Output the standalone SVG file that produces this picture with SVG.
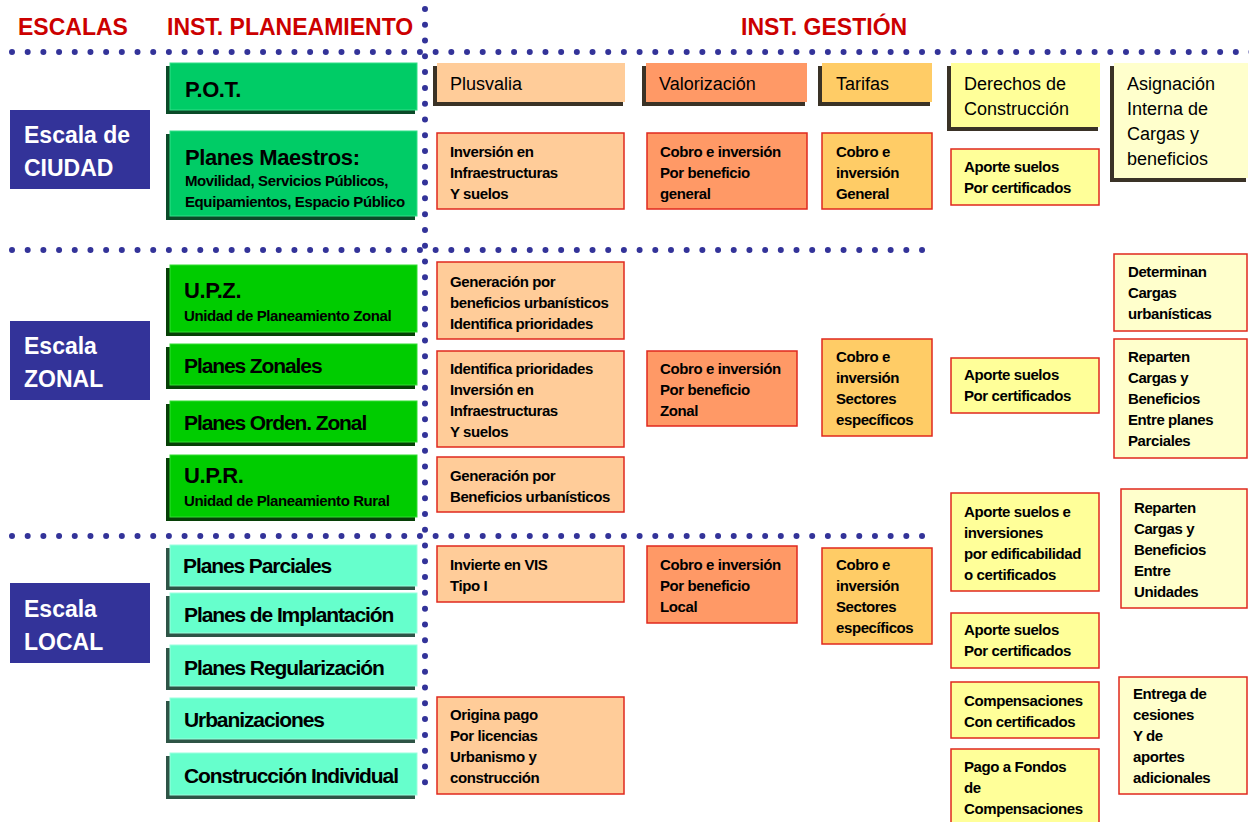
<svg xmlns="http://www.w3.org/2000/svg" width="1249" height="822" viewBox="0 0 1249 822">
<style>
text{font-family:"Liberation Sans",Arial,sans-serif;fill:#000}
.hdr{font-size:23px;font-weight:bold;fill:#CC0000}
.dots{stroke:#333399;stroke-width:6;stroke-linecap:round;fill:none}
.scale rect{fill:#333399}
.scale text{fill:#fff;font-size:23px;font-weight:bold}
.pt{font-size:21px;font-weight:bold;letter-spacing:-1.1px}
.pb{font-size:22px;font-weight:bold;letter-spacing:-0.4px}
.ps{font-size:15px;font-weight:bold;letter-spacing:-0.4px}
.ht{font-size:18px}
.dt{font-size:15px;font-weight:bold;letter-spacing:-0.4px}
.det{stroke:#E0281E;stroke-width:1.5}
.c1 .f{fill:#00CC66;stroke:#33E088;stroke-width:1}
.c1 .e{fill:#0B4A28}
.c2 .f{fill:#00CC00;stroke:#33DD33;stroke-width:1}
.c2 .e{fill:#064006}
.c3 .f{fill:#66FFCC;stroke:#99FFDD;stroke-width:1}
.c3 .e{fill:#2E5446}
.hb .e{fill:#3A3226}
.plus{fill:#FFCC99}
.valo{fill:#FF9966}
.tari{fill:#FFCC66}
.dere{fill:#FFFF99}
.asig{fill:#FFFFCC}
</style>

<g id="headers">
<text class="hdr" x="18" y="35">ESCALAS</text>
<text class="hdr" x="167" y="35">INST. PLANEAMIENTO</text>
<text class="hdr" x="741" y="35">INST. GESTIÓN</text>
</g>

<g id="connectors">
<line class="dots" x1="12" y1="52" x2="1260" y2="52" stroke-dasharray="0 15.69"/>
<line class="dots" x1="12" y1="250" x2="926" y2="250" stroke-dasharray="0 15.69"/>
<line class="dots" x1="12" y1="536" x2="926" y2="536" stroke-dasharray="0 15.69"/>
<line class="dots" x1="425" y1="9" x2="425" y2="785" stroke-dasharray="0 15.78"/>
</g>

<g id="escala-ciudad" class="scale"><rect x="10" y="110" width="140" height="79"/><text x="24" y="143">Escala de</text><text x="24" y="176">CIUDAD</text></g>
<g id="escala-zonal" class="scale"><rect x="10" y="321" width="140" height="79"/><text x="24" y="354">Escala</text><text x="24" y="387">ZONAL</text></g>
<g id="escala-local" class="scale"><rect x="10" y="583" width="140" height="80"/><text x="24" y="617">Escala</text><text x="24" y="650">LOCAL</text></g>

<g id="pot" class="c1"><rect class="e" x="166" y="66" width="249" height="48"/><rect class="f" x="170" y="63" width="247" height="47"/><text class="pb" x="185" y="97">P.O.T.</text></g>
<g id="planes-maestros" class="c1"><rect class="e" x="166" y="134" width="249" height="86"/><rect class="f" x="170" y="131" width="247" height="85"/><text class="pb" x="185" y="165">Planes Maestros:</text><text class="ps" x="185" y="186">Movilidad, Servicios Públicos,</text><text class="ps" x="185" y="207">Equipamientos, Espacio Público</text></g>

<g id="upz" class="c2"><rect class="e" x="166" y="268" width="249" height="68"/><rect class="f" x="170" y="265" width="247" height="67"/><text class="pb" x="184" y="298">U.P.Z.</text><text class="ps" x="184" y="321">Unidad de Planeamiento Zonal</text></g>
<g id="planes-zonales" class="c2"><rect class="e" x="166" y="347" width="249" height="42"/><rect class="f" x="170" y="344" width="247" height="41"/><text class="pt" x="184" y="373">Planes Zonales</text></g>
<g id="planes-orden-zonal" class="c2"><rect class="e" x="166" y="404" width="249" height="42"/><rect class="f" x="170" y="401" width="247" height="41"/><text class="pt" x="184" y="430">Planes Orden. Zonal</text></g>
<g id="upr" class="c2"><rect class="e" x="166" y="458" width="249" height="63"/><rect class="f" x="170" y="455" width="247" height="62"/><text class="pb" x="184" y="483">U.P.R.</text><text class="ps" x="184" y="506">Unidad de Planeamiento Rural</text></g>

<g id="planes-parciales" class="c3"><rect class="e" x="166" y="548" width="249" height="42"/><rect class="f" x="170" y="545" width="247" height="41"/><text class="pt" x="183" y="573">Planes Parciales</text></g>
<g id="planes-implantacion" class="c3"><rect class="e" x="166" y="596" width="249" height="41"/><rect class="f" x="170" y="593" width="247" height="40"/><text class="pt" x="184" y="622">Planes de Implantación</text></g>
<g id="planes-regularizacion" class="c3"><rect class="e" x="166" y="648" width="249" height="42"/><rect class="f" x="170" y="645" width="247" height="41"/><text class="pt" x="184" y="675">Planes Regularización</text></g>
<g id="urbanizaciones" class="c3"><rect class="e" x="166" y="701" width="249" height="42"/><rect class="f" x="170" y="698" width="247" height="41"/><text class="pt" x="184" y="727">Urbanizaciones</text></g>
<g id="construccion-individual" class="c3"><rect class="e" x="166" y="756" width="249" height="43"/><rect class="f" x="170" y="753" width="247" height="42"/><text class="pt" x="184" y="783">Construcción Individual</text></g>

<g id="h-plusvalia" class="hb"><rect class="e" x="433" y="66" width="190" height="40"/><rect class="plus" x="437" y="63" width="188" height="39"/><text class="ht" x="450" y="90">Plusvalia</text></g>
<g id="h-valorizacion" class="hb"><rect class="e" x="642" y="66" width="163" height="40"/><rect class="valo" x="646" y="63" width="161" height="39"/><text class="ht" x="659" y="90">Valorización</text></g>
<g id="h-tarifas" class="hb"><rect class="e" x="818" y="66" width="112" height="40"/><rect class="tari" x="822" y="63" width="110" height="39"/><text class="ht" x="836" y="90">Tarifas</text></g>
<g id="h-derechos" class="hb"><rect class="e" x="947" y="66" width="151" height="65"/><rect class="dere" x="951" y="63" width="149" height="64"/><text class="ht" x="964" y="90">Derechos de</text><text class="ht" x="964" y="115">Construcción</text></g>
<g id="h-asignacion" class="hb"><rect class="e" x="1110" y="66" width="136" height="116"/><rect class="asig" x="1114" y="63" width="134" height="115"/><text class="ht" x="1127" y="90">Asignación</text><text class="ht" x="1127" y="115">Interna de</text><text class="ht" x="1127" y="140">Cargas y</text><text class="ht" x="1127" y="165">beneficios</text></g>

<g id="plus-ciudad"><rect class="det plus" x="437" y="133" width="187" height="76"/><text class="dt" x="450" y="157">Inversión en</text><text class="dt" x="450" y="178">Infraestructuras</text><text class="dt" x="450" y="199">Y suelos</text></g>
<g id="plus-zonal-1"><rect class="det plus" x="437" y="262" width="187" height="77"/><text class="dt" x="450" y="287">Generación por</text><text class="dt" x="450" y="308">beneficios urbanísticos</text><text class="dt" x="450" y="329">Identifica prioridades</text></g>
<g id="plus-zonal-2"><rect class="det plus" x="437" y="351" width="187" height="96"/><text class="dt" x="450" y="374">Identifica prioridades</text><text class="dt" x="450" y="395">Inversión en</text><text class="dt" x="450" y="416">Infraestructuras</text><text class="dt" x="450" y="437">Y suelos</text></g>
<g id="plus-zonal-3"><rect class="det plus" x="437" y="457" width="187" height="55"/><text class="dt" x="450" y="481">Generación por</text><text class="dt" x="450" y="502">Beneficios urbanísticos</text></g>
<g id="plus-local-1"><rect class="det plus" x="437" y="546" width="187" height="56"/><text class="dt" x="450" y="570">Invierte en VIS</text><text class="dt" x="450" y="591">Tipo I</text></g>
<g id="plus-local-2"><rect class="det plus" x="437" y="697" width="187" height="97"/><text class="dt" x="450" y="720">Origina pago</text><text class="dt" x="450" y="741">Por licencias</text><text class="dt" x="450" y="762">Urbanismo y</text><text class="dt" x="450" y="783">construcción</text></g>

<g id="valo-ciudad"><rect class="det valo" x="647" y="133" width="160" height="76"/><text class="dt" x="660" y="157">Cobro e inversión</text><text class="dt" x="660" y="178">Por beneficio</text><text class="dt" x="660" y="199">general</text></g>
<g id="valo-zonal"><rect class="det valo" x="647" y="351" width="150" height="75"/><text class="dt" x="660" y="374">Cobro e inversión</text><text class="dt" x="660" y="395">Por beneficio</text><text class="dt" x="660" y="416">Zonal</text></g>
<g id="valo-local"><rect class="det valo" x="647" y="546" width="150" height="77"/><text class="dt" x="660" y="570">Cobro e inversión</text><text class="dt" x="660" y="591">Por beneficio</text><text class="dt" x="660" y="612">Local</text></g>

<g id="tari-ciudad"><rect class="det tari" x="822" y="133" width="110" height="76"/><text class="dt" x="836" y="157">Cobro e</text><text class="dt" x="836" y="178">inversión</text><text class="dt" x="836" y="199">General</text></g>
<g id="tari-zonal"><rect class="det tari" x="822" y="339" width="110" height="97"/><text class="dt" x="836" y="362">Cobro e</text><text class="dt" x="836" y="383">inversión</text><text class="dt" x="836" y="404">Sectores</text><text class="dt" x="836" y="425">específicos</text></g>
<g id="tari-local"><rect class="det tari" x="822" y="548" width="110" height="96"/><text class="dt" x="836" y="570">Cobro e</text><text class="dt" x="836" y="591">inversión</text><text class="dt" x="836" y="612">Sectores</text><text class="dt" x="836" y="633">específicos</text></g>

<g id="dere-ciudad"><rect class="det dere" x="951" y="149" width="148" height="56"/><text class="dt" x="964" y="172">Aporte suelos</text><text class="dt" x="964" y="193">Por certificados</text></g>
<g id="dere-zonal"><rect class="det dere" x="951" y="358" width="148" height="55"/><text class="dt" x="964" y="380">Aporte suelos</text><text class="dt" x="964" y="401">Por certificados</text></g>
<g id="dere-local-1"><rect class="det dere" x="951" y="493" width="148" height="98"/><text class="dt" x="964" y="517">Aporte suelos e</text><text class="dt" x="964" y="538">inversiones</text><text class="dt" x="964" y="559">por edificabilidad</text><text class="dt" x="964" y="580">o certificados</text></g>
<g id="dere-local-2"><rect class="det dere" x="951" y="613" width="148" height="55"/><text class="dt" x="964" y="635">Aporte suelos</text><text class="dt" x="964" y="656">Por certificados</text></g>
<g id="dere-local-3"><rect class="det dere" x="951" y="682" width="148" height="56"/><text class="dt" x="964" y="706">Compensaciones</text><text class="dt" x="964" y="727">Con certificados</text></g>
<g id="dere-local-4"><rect class="det dere" x="951" y="749" width="148" height="90"/><text class="dt" x="964" y="772">Pago a Fondos</text><text class="dt" x="964" y="793">de</text><text class="dt" x="964" y="814">Compensaciones</text></g>

<g id="asig-zonal-1"><rect class="det asig" x="1114" y="254" width="133" height="77"/><text class="dt" x="1128" y="277">Determinan</text><text class="dt" x="1128" y="298">Cargas</text><text class="dt" x="1128" y="319">urbanísticas</text></g>
<g id="asig-zonal-2"><rect class="det asig" x="1114" y="339" width="133" height="119"/><text class="dt" x="1128" y="362">Reparten</text><text class="dt" x="1128" y="383">Cargas y</text><text class="dt" x="1128" y="404">Beneficios</text><text class="dt" x="1128" y="425">Entre planes</text><text class="dt" x="1128" y="446">Parciales</text></g>
<g id="asig-local-1"><rect class="det asig" x="1121" y="489" width="126" height="119"/><text class="dt" x="1134" y="513">Reparten</text><text class="dt" x="1134" y="534">Cargas y</text><text class="dt" x="1134" y="555">Beneficios</text><text class="dt" x="1134" y="576">Entre</text><text class="dt" x="1134" y="597">Unidades</text></g>
<g id="asig-local-2"><rect class="det asig" x="1119" y="677" width="128" height="117"/><text class="dt" x="1133" y="699">Entrega de</text><text class="dt" x="1133" y="720">cesiones</text><text class="dt" x="1133" y="741">Y de</text><text class="dt" x="1133" y="762">aportes</text><text class="dt" x="1133" y="783">adicionales</text></g>
</svg>
